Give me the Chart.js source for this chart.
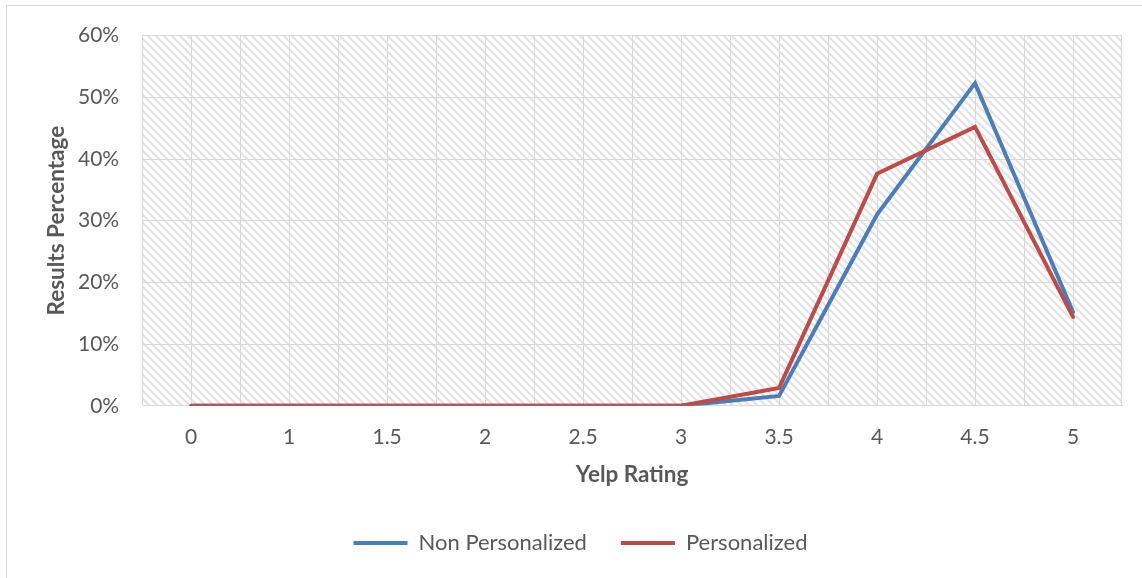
<!DOCTYPE html>
<html>
<head>
<meta charset="utf-8">
<script src="https://cdn.jsdelivr.net/npm/chart.js@4.4.1/dist/chart.umd.min.js"></script>
<style>
  html, body { margin: 0; padding: 0; background: #fff; }
  body { width: 1142px; height: 578px; overflow: hidden; position: relative; }
  .frame { position: absolute; left: 6px; top: 5px; width: 1140px; height: 580px; border: 1px solid #d9d9d9; box-sizing: border-box; }
  .wrap { position: absolute; left: 0; top: 0; width: 1142px; height: 578px; }
  canvas { display: block; }
</style>
</head>
<body>
<div class="frame"></div>
<div class="wrap"><canvas id="c" width="1142" height="578"></canvas></div>
<script>
// data
const ratings = ["0", "1", "1.5", "2", "2.5", "3", "3.5", "4", "4.5", "5"];
const nonPersonalized = [0, 0, 0, 0, 0, 0, 0.016, 0.31, 0.523, 0.152];
const personalized = [0, 0, 0, 0, 0, 0, 0.029, 0.376, 0.452, 0.144];
const yTicks = [0, 0.1, 0.2, 0.3, 0.4, 0.5, 0.6];

const textColor = "#595959";
const gridColor = "#d9d9d9";

// diagonal hatch like the excel pattern fill
function makeHatch() {
  const p = document.createElement("canvas");
  p.width = 8; p.height = 8;
  const g = p.getContext("2d");
  g.fillStyle = "#fff";
  g.fillRect(0, 0, 8, 8);
  g.strokeStyle = "#e3e3e3";
  g.lineWidth = 2.2;
  g.beginPath();
  g.moveTo(-2, -2); g.lineTo(10, 10);
  g.moveTo(-2, 6); g.lineTo(2, 10);
  g.moveTo(6, -2); g.lineTo(10, 2);
  g.stroke();
  return p;
}

const hatchPlugin = {
  id: "hatch",
  beforeDraw(chart) {
    const { ctx, chartArea: a } = chart;
    ctx.save();
    ctx.fillStyle = ctx.createPattern(makeHatch(), "repeat");
    ctx.fillRect(a.left, a.top, a.right - a.left, a.bottom - a.top);
    ctx.restore();
  },
  beforeDatasetsDraw(chart) {
    // vertical lines at category centres and boundaries
    const { ctx, chartArea: a, scales } = chart;
    const x = scales.x;
    const half = (x.getPixelForValue(1) - x.getPixelForValue(0)) / 2;
    ctx.save();
    ctx.strokeStyle = gridColor;
    ctx.lineWidth = 1;
    ctx.beginPath();
    ratings.forEach((r, i) => {
      const c = x.getPixelForValue(i);
      const px = Math.round(c) + 0.5;
      const bx = Math.round(c - half) + 0.5;
      ctx.moveTo(px, a.top); ctx.lineTo(px, a.bottom);
      ctx.moveTo(bx, a.top); ctx.lineTo(bx, a.bottom);
    });
    const last = Math.round(a.right) - 0.5;
    ctx.moveTo(last, a.top); ctx.lineTo(last, a.bottom);
    ctx.stroke();
    ctx.restore();
  }
};

new Chart(document.getElementById("c"), {
  type: "line",
  data: {
    labels: ratings,
    datasets: [
      {
        label: "Non Personalized",
        data: nonPersonalized,
        order: 1,
        borderColor: "#4a7ebb",
        backgroundColor: "#4a7ebb",
        borderWidth: 4,
        borderCapStyle: "round",
        borderJoinStyle: "miter",
        pointRadius: 0,
        tension: 0,
      },
      {
        label: "Personalized",
        data: personalized,
        order: 0, // red sits on top like in the original
        borderColor: "#be4b48",
        backgroundColor: "#be4b48",
        borderWidth: 4,
        borderCapStyle: "round",
        borderJoinStyle: "miter",
        pointRadius: 0,
        tension: 0,
      },
    ],
  },
  plugins: [hatchPlugin],
  options: {
    responsive: false,
    animation: false,
    devicePixelRatio: 1,
    layout: { padding: { left: 39, right: 20, top: 24, bottom: 14 } },
    plugins: {
      tooltip: { enabled: false },
      legend: {
        position: "bottom",
        labels: {
          color: textColor,
          font: { family: "Lato", size: 22 },
          usePointStyle: true,
          pointStyle: "line",
          pointStyleWidth: 54,
          padding: 34,
          sort: (a, b) => a.datasetIndex - b.datasetIndex,
        },
      },
    },
    scales: {
      x: {
        type: "category",
        offset: true,
        grid: { display: false },
        border: { color: gridColor, width: 1 },
        ticks: { color: textColor, font: { family: "Lato", size: 21 }, padding: 11 },
        title: {
          display: true,
          text: "Yelp Rating",
          color: textColor,
          font: { family: "Lato", size: 22.5, weight: "bold" },
          padding: { top: 0, bottom: 10 },
        },
      },
      y: {
        min: 0,
        max: 0.6,
        afterBuildTicks(axis) { axis.ticks = yTicks.map(v => ({ value: v })); },
        grid: { color: gridColor, drawTicks: false },
        border: { display: false },
        ticks: {
          color: textColor,
          font: { family: "Lato", size: 21 },
          padding: 23,
          callback: v => Math.round(v * 100) + "%",
        },
        title: {
          display: true,
          text: "Results Percentage",
          color: textColor,
          font: { family: "Lato", size: 22.5, weight: "bold" },
          padding: { top: 4, bottom: -15 },
        },
      },
    },
  },
});
</script>
</body>
</html>
